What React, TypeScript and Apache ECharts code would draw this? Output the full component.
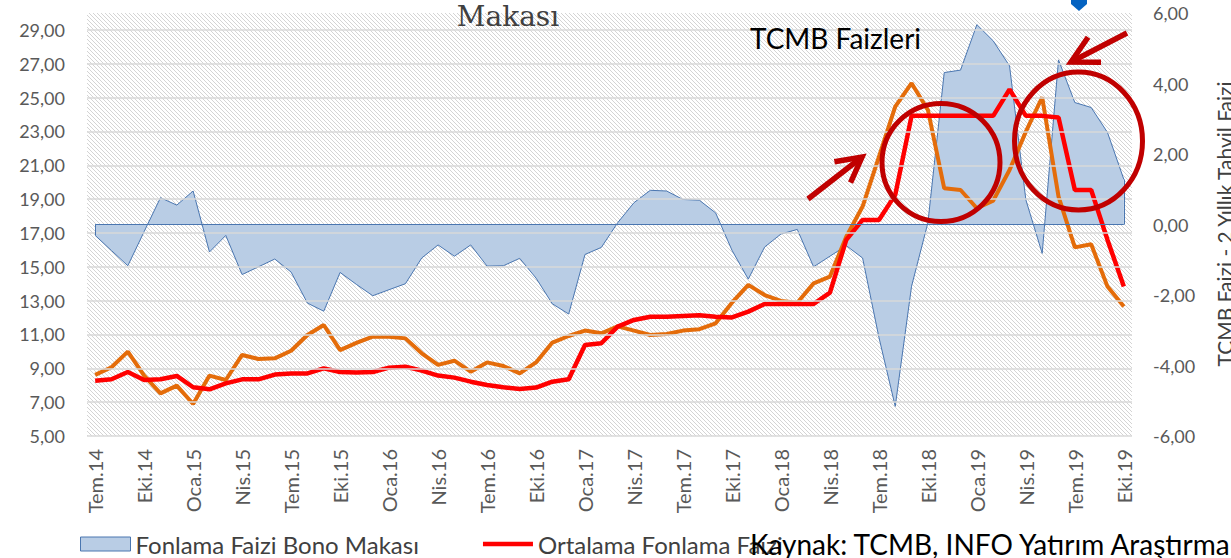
import React, { useEffect, useRef } from 'react';
import * as echarts from 'echarts';

const categories = [
  'Tem.14', 'Ağu.14', 'Eyl.14', 'Eki.14', 'Kas.14', 'Ara.14',
  'Oca.15', 'Şub.15', 'Mar.15', 'Nis.15', 'May.15', 'Haz.15', 'Tem.15', 'Ağu.15', 'Eyl.15', 'Eki.15', 'Kas.15', 'Ara.15',
  'Oca.16', 'Şub.16', 'Mar.16', 'Nis.16', 'May.16', 'Haz.16', 'Tem.16', 'Ağu.16', 'Eyl.16', 'Eki.16', 'Kas.16', 'Ara.16',
  'Oca.17', 'Şub.17', 'Mar.17', 'Nis.17', 'May.17', 'Haz.17', 'Tem.17', 'Ağu.17', 'Eyl.17', 'Eki.17', 'Kas.17', 'Ara.17',
  'Oca.18', 'Şub.18', 'Mar.18', 'Nis.18', 'May.18', 'Haz.18', 'Tem.18', 'Ağu.18', 'Eyl.18', 'Eki.18', 'Kas.18', 'Ara.18',
  'Oca.19', 'Şub.19', 'Mar.19', 'Nis.19', 'May.19', 'Haz.19', 'Tem.19', 'Ağu.19', 'Eyl.19', 'Eki.19',
];

// Fonlama Faizi Bono Makası (right axis)
const spreadValues = [
  -0.31, -0.74, -1.17, -0.2, 0.76, 0.55, 0.95, -0.78, -0.31, -1.42,
  -1.2, -0.98, -1.35, -2.23, -2.46, -1.36, -1.7, -2.02, -1.85, -1.68,
  -0.95, -0.58, -0.9, -0.58, -1.18, -1.17, -0.96, -1.52, -2.25, -2.54,
  -0.85, -0.65, 0.05, 0.62, 0.97, 0.95, 0.71, 0.69, 0.33, -0.73,
  -1.55, -0.64, -0.27, -0.14, -1.2, -0.9, -0.6, -0.95, -3.2, -5.16,
  -1.75, 0.05, 4.31, 4.38, 5.67, 5.21, 4.5, 0.7, -0.82, 4.67,
  3.46, 3.32, 2.61, 1.28,
];

// Ortalama Fonlama Faizi (left axis)
const fundingRate = [
  8.27, 8.35, 8.78, 8.31, 8.35, 8.55, 7.88, 7.76, 8.11, 8.35,
  8.35, 8.63, 8.7, 8.7, 9.0, 8.78, 8.76, 8.78, 9.04, 9.1,
  8.86, 8.57, 8.45, 8.21, 8.01, 7.88, 7.78, 7.86, 8.21, 8.35,
  10.38, 10.48, 11.46, 11.86, 12.05, 12.05, 12.09, 12.13, 12.05, 12.01,
  12.35, 12.8, 12.8, 12.8, 12.8, 13.47, 16.59, 17.77, 17.77, 19.25,
  23.92, 23.92, 23.92, 23.92, 23.92, 23.92, 25.49, 23.92, 23.92, 23.82,
  19.54, 19.54, 16.59, 13.83,
];

// 2 Yıllık Tahvil Faizi (left axis)
const bondYield2y = [
  8.61, 9.06, 9.99, 8.57, 7.52, 7.98, 6.89, 8.57, 8.31, 9.79,
  9.55, 9.59, 10.04, 10.97, 11.56, 10.08, 10.5, 10.87, 10.87, 10.77,
  9.89, 9.2, 9.45, 8.8, 9.35, 9.14, 8.7, 9.35, 10.52, 10.91,
  11.23, 11.07, 11.48, 11.23, 10.97, 11.03, 11.23, 11.31, 11.66, 12.88,
  13.93, 13.33, 12.98, 12.88, 14.02, 14.42, 16.78, 18.56, 21.5, 24.47,
  25.85, 24.27, 19.64, 19.54, 18.46, 18.91, 20.72, 22.99, 25.02, 19.15,
  16.15, 16.33, 13.83, 12.65,
];

const leftTicks = [5, 7, 9, 11, 13, 15, 17, 19, 21, 23, 25, 27, 29];

const SERIES_SPREAD = 'Fonlama Faizi Bono Makası';
const SERIES_FUNDING = 'Ortalama Fonlama Faizi';
const SERIES_BOND = '2 Yıllık Tahvil Faizi';

const fmt = (v: number) => v.toFixed(2).replace('.', ',');

function makeHatch() {
  const c = document.createElement('canvas');
  c.width = 4;
  c.height = 4;
  const ctx = c.getContext('2d')!;
  ctx.fillStyle = '#ffffff';
  ctx.fillRect(0, 0, 4, 4);
  ctx.fillStyle = '#d4d4d4';
  for (let i = 0; i < 4; i++) ctx.fillRect(i, i, 1, 1);
  return c;
}

const ANNOT = '#c00000';

function arrow(x1: number, y1: number, x2: number, y2: number, len: number, deg: number) {
  const a = Math.atan2(y1 - y2, x1 - x2);
  const r = (deg * Math.PI) / 180;
  const p1 = [x2 + len * Math.cos(a + r), y2 + len * Math.sin(a + r)];
  const p2 = [x2 + len * Math.cos(a - r), y2 + len * Math.sin(a - r)];
  return [
    {
      type: 'line',
      z: 100,
      shape: { x1, y1, x2, y2 },
      style: { stroke: ANNOT, lineWidth: 5.5 },
    },
    {
      type: 'polyline',
      z: 100,
      shape: { points: [p1, [x2, y2], p2] },
      style: { stroke: ANNOT, lineWidth: 5.5, fill: 'none', lineJoin: 'miter' },
    },
  ];
}

export default function App() {
  const ref = useRef<HTMLDivElement>(null);

  useEffect(() => {
    if (!ref.current) return;
    const chart = echarts.init(ref.current, null, { renderer: 'svg' });
    const last = categories.length - 1;

    const option: any = {
      animation: false,
      backgroundColor: '#ffffff',
      textStyle: { fontFamily: 'Lato' },
      grid: {
        left: 87,
        right: 99,
        top: 13,
        bottom: 122,
        show: true,
        borderWidth: 0,
        backgroundColor: { image: makeHatch(), repeat: 'repeat' },
      },
      legend: {
        left: 75,
        top: 527,
        itemWidth: 50,
        itemHeight: 14,
        itemGap: 64,
        symbolKeepAspect: true,
        textStyle: { fontFamily: 'Lato', fontSize: 24, color: '#404040' },
        data: [
          {
            name: SERIES_SPREAD,
            icon: 'rect',
            itemStyle: { color: '#b9cde5', borderColor: '#4a76b0', borderWidth: 1 },
          },
          {
            name: SERIES_FUNDING,
            icon: 'path://M0,0L52,0L52,4.5L0,4.5Z',
            itemStyle: { color: '#ff0000', borderWidth: 0 },
          },
        ],
      },
      xAxis: {
        type: 'category',
        data: categories,
        boundaryGap: true,
        axisLine: { show: false },
        axisTick: { show: false },
        splitLine: { show: false },
        axisLabel: {
          interval: 2,
          rotate: 90,
          margin: 13,
          fontFamily: 'Lato',
          fontSize: 20,
          color: '#595959',
        },
      },
      yAxis: [
        {
          type: 'value',
          position: 'left',
          min: 5,
          max: 30,
          interval: 1,
          axisLine: { show: false },
          axisTick: { show: false },
          splitLine: { show: false },
          axisLabel: {
            margin: 22,
            fontFamily: 'Lato',
            fontSize: 18,
            color: '#595959',
            formatter: (v: number) => (Math.round(v) % 2 === 1 ? fmt(v) : ''),
          },
        },
        {
          type: 'value',
          position: 'right',
          min: -6,
          max: 6,
          interval: 2,
          axisLine: { show: false },
          axisTick: { show: false },
          splitLine: { show: false },
          axisLabel: {
            margin: 21,
            fontFamily: 'Lato',
            fontSize: 18,
            color: '#595959',
            formatter: (v: number) => fmt(v),
          },
        },
      ],
      series: [
        {
          name: 'gridlines',
          type: 'line',
          yAxisIndex: 0,
          data: [],
          z: 1,
          silent: true,
          markLine: {
            silent: true,
            symbol: ['none', 'none'],
            label: { show: false },
            lineStyle: { color: '#d9d9d9', width: 1.5, type: 'solid' },
            data: leftTicks.map((v) => ({ yAxis: v })),
          },
        },
        {
          name: SERIES_SPREAD,
          type: 'line',
          yAxisIndex: 1,
          data: spreadValues,
          symbol: 'none',
          z: 2,
          color: '#b9cde5',
          lineStyle: { color: '#4a76b0', width: 1 },
          areaStyle: { color: '#b9cde5', opacity: 1, origin: 0 },
          markLine: {
            silent: true,
            symbol: ['none', 'none'],
            label: { show: false },
            lineStyle: { color: '#4a76b0', width: 1, type: 'solid' },
            data: [
              [{ coord: [categories[0], 0] }, { coord: [categories[last], 0] }],
              [{ coord: [categories[0], 0] }, { coord: [categories[0], spreadValues[0]] }],
              [{ coord: [categories[last], 0] }, { coord: [categories[last], spreadValues[last]] }],
            ],
          },
        },
        {
          name: SERIES_BOND,
          type: 'line',
          yAxisIndex: 0,
          data: bondYield2y,
          symbol: 'none',
          z: 3,
          color: '#e46c0a',
          lineStyle: { color: '#e46c0a', width: 4 },
        },
        {
          name: SERIES_FUNDING,
          type: 'line',
          yAxisIndex: 0,
          data: fundingRate,
          symbol: 'none',
          z: 4,
          color: '#ff0000',
          lineStyle: { color: '#ff0000', width: 4.5 },
        },
      ],
      graphic: [
        {
          type: 'text',
          z: 100,
          x: 508,
          y: 16,
          style: {
            text: 'Makası',
            fontFamily: 'DejaVu Serif',
            fontSize: 28,
            fill: '#404040',
            align: 'center',
            verticalAlign: 'middle',
          },
        },
        {
          type: 'text',
          z: 100,
          x: 750,
          y: 38,
          style: {
            text: 'TCMB Faizleri',
            fontFamily: 'Lato',
            fontSize: 28,
            fill: '#000000',
            align: 'left',
            verticalAlign: 'middle',
          },
        },
        {
          type: 'text',
          z: 100,
          x: 1224,
          y: 224,
          rotation: Math.PI / 2,
          style: {
            text: 'TCMB Faizi - 2 Yıllık Tahvil Faizi',
            fontFamily: 'Lato',
            fontSize: 21,
            fill: '#404040',
            align: 'center',
            verticalAlign: 'middle',
          },
        },
        {
          type: 'text',
          z: 100,
          x: 750,
          y: 544,
          style: {
            text: 'Kaynak: TCMB, INFO Yatırım Araştırma',
            fontFamily: 'Lato',
            fontSize: 28,
            fill: '#000000',
            align: 'left',
            verticalAlign: 'middle',
          },
        },
        {
          type: 'polygon',
          z: 100,
          shape: { points: [[1071, 0], [1087, 0], [1087, 4], [1079, 11], [1071, 4]] },
          style: { fill: '#0563c1' },
        },
        {
          type: 'ellipse',
          z: 100,
          shape: { cx: 941, cy: 162.5, rx: 59, ry: 59 },
          style: { fill: 'none', stroke: ANNOT, lineWidth: 5 },
        },
        {
          type: 'ellipse',
          z: 100,
          shape: { cx: 1078.5, cy: 141, rx: 64, ry: 69 },
          style: { fill: 'none', stroke: ANNOT, lineWidth: 5 },
        },
        ...arrow(808, 199, 862, 157, 28, 28),
        ...arrow(1127, 33, 1071, 62, 30, 28),
      ],
    };

    chart.setOption(option);
    return () => chart.dispose();
  }, []);

  return (
    <div
      ref={ref}
      style={{ position: 'absolute', left: 0, top: 0, width: 1231, height: 558 }}
    />
  );
}
